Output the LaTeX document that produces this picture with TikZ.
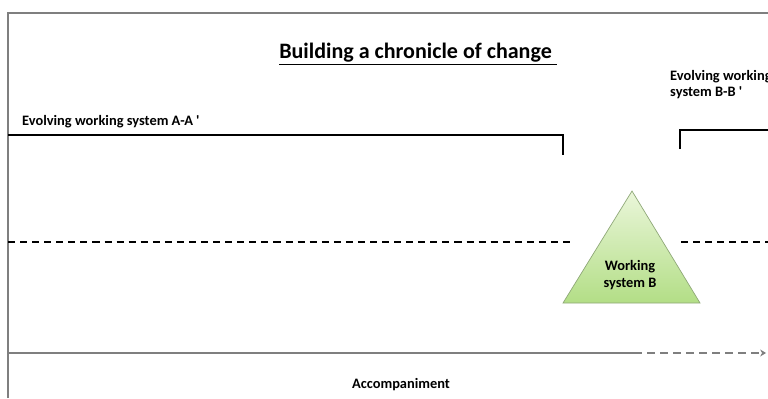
\documentclass[tikz,border=0pt]{standalone}
\usepackage{fontspec}
\setmainfont{Carlito}
\usetikzlibrary{arrows.meta,positioning,calc}

\definecolor{framegray}{HTML}{7F7F7F}
\definecolor{trilight}{HTML}{EAF6DA}
\definecolor{tridark}{HTML}{B3DE86}
\definecolor{triedge}{HTML}{8FA878}

\tikzset{
  label text/.style={font=\bfseries\fontsize{12.3}{14.5}\selectfont, inner sep=0pt},
  bracket line/.style={line width=1.7pt, black},
  dash line/.style={line width=1.6pt, black, dash pattern=on 6pt off 4.3pt},
}

\begin{document}
\begin{tikzpicture}[x=0.03cm,y=-0.03cm]
    \useasboundingbox (0,0) rectangle (768,398);
    % frame
    \draw[framegray,line width=1.1pt] (8,398) -- (8,13) -- (768,13);

    \node[font=\bfseries\fontsize{18.8}{22}\selectfont, inner sep=0pt, anchor=base] (title) at (418,59) {\underline{Building a chronicle of change\ }};

    % brackets
    \coordinate (A_start) at (8,135);
    \coordinate (A_corner) at (563,135);
    \coordinate (A_end) at (563,155);
    \coordinate (B_end) at (680,149);
    \coordinate (B_corner) at (680,130);
    \coordinate (B_start) at (768,130);
    \node[label text, anchor=base west] (labA) at (22,126) {Evolving working system A-A \textquotesingle};
    \node[label text, anchor=base west, align=left] (labB) at (670,97) {Evolving working\\system B-B \textquotesingle};
    \draw[bracket line] (A_start) -- (A_corner) -- (A_end);
    \draw[bracket line] (B_end) -- (B_corner) -- (B_start);

    % dashed timeline
    \coordinate (dashA_l) at (8,242);
    \coordinate (dashA_r) at (575,242);
    \coordinate (dashB_l) at (681,242);
    \coordinate (dashB_r) at (768,242);
    \draw[dash line] (dashA_l) -- (dashA_r);
    \draw[dash line] (dashB_l) -- (dashB_r);

    % working system B
    \coordinate (tri_top) at (632,191);
    \coordinate (tri_left) at (563,303);
    \coordinate (tri_right) at (700,303);
    \draw[triedge, line width=0.6pt, top color=trilight, bottom color=tridark] (tri_top) -- (tri_right) -- (tri_left) -- cycle;
    \node[label text, align=center] (wsB) at (630,275.5) {Working\\system B};

    % accompaniment
    \coordinate (acc_l) at (8,353);
    \coordinate (acc_m) at (634,353);
    \coordinate (acc_r) at (766,353);
    \draw[framegray, line width=1.2pt] (acc_l) -- (acc_m);
    \draw[framegray, line width=1.2pt, dash pattern=on 6.8pt off 4.3pt, -{Stealth[length=5pt,width=6pt]}] (acc_m) -- (acc_r);
    \node[label text, anchor=base] (accomp) at (401,388) {Accompaniment};
\end{tikzpicture}
\end{document}
